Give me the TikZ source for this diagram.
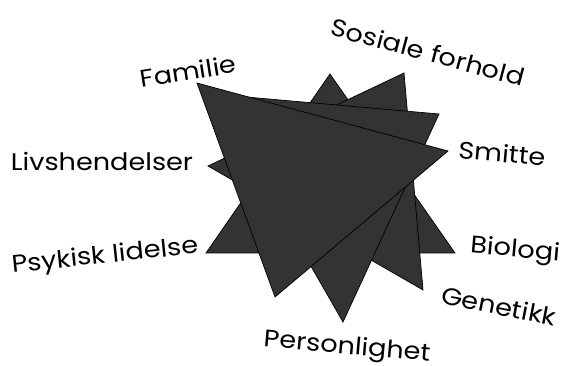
\documentclass[tikz,border=0pt]{standalone}
\usepackage{fontspec}
\setmainfont{Poppins}
\definecolor{triFill}{RGB}{51,51,51}

\begin{document}
\begin{tikzpicture}[x=1pt,y=-1pt,
	tri/.style={fill=triFill, draw=black, line width=0.7pt, line join=miter},
	lbl/.style={font=\fontsize{24}{28}\selectfont, inner sep=0pt}
	]
	\useasboundingbox (0,0) rectangle (563,366);

	% triangles, back to front
	\draw[tri] (330,74) -- (206,253) -- (455,253) -- cycle;
	\draw[tri] (404,73) -- (208,166) -- (423,290) -- cycle;
	\draw[tri] (439,114) -- (212,94) -- (343,322) -- cycle;
	\draw[tri] (197,83) -- (448,151) -- (275,297) -- cycle;

	% labels round the star
	\foreach \n/\x/\y/\a/\t in {fam/188/71/9/Familie,
		sos/428/52/-15/Sosiale forhold,
		smi/502/153/-5/Smitte,
		liv/102/161/0/Livshendelser,
		psy/105/257/6/Psykisk lidelse,
		bio/515/251/-5/Biologi,
		gen/499/306/-11/Genetikk,
		per/347/348/-5/Personlighet}
	\node[lbl, rotate=\a] (\n) at (\x,\y) {\scalebox{1.13}[1]{\t}};
\end{tikzpicture}
\end{document}
